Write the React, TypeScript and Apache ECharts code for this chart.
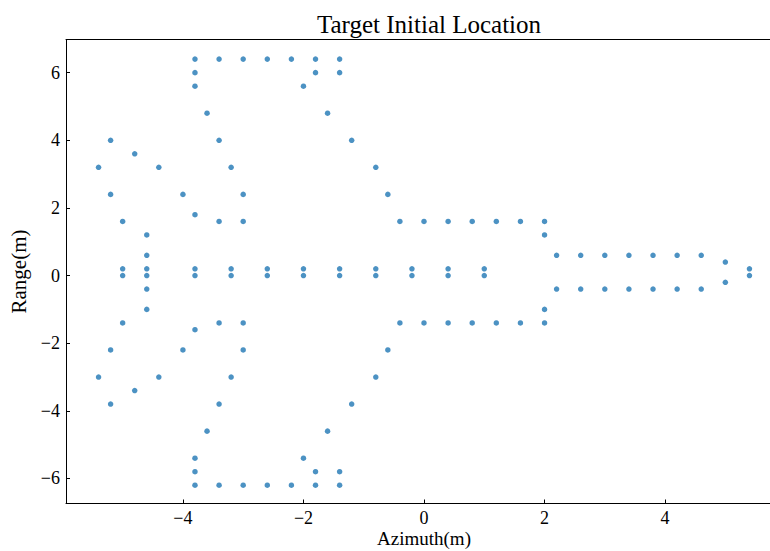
import React, { useEffect, useRef } from "react";
import * as echarts from "echarts";

// Each row: range value (m) and the azimuth values (m) of the points on that row
const rowRange: number[] = [
  6.4, 6.0, 5.6, 4.8, 4.0, 3.6, 3.2, 2.4, 1.8, 1.6, 1.2, 0.6, 0.4, 0.2, 0.0,
  -0.2, -0.4, -1.0, -1.4, -1.6, -2.2, -3.0, -3.4, -3.8, -4.6, -5.4, -5.8, -6.2,
];
const rowAzimuth: number[][] = [
  [-3.8, -3.4, -3.0, -2.6, -2.2, -1.8, -1.4],
  [-3.8, -1.8, -1.4],
  [-3.8, -2.0],
  [-3.6, -1.6],
  [-5.2, -3.4, -1.2],
  [-4.8],
  [-5.4, -4.4, -3.2, -0.8],
  [-5.2, -4.0, -3.0, -0.6],
  [-3.8],
  [-5.0, -3.4, -3.0, -0.4, 0.0, 0.4, 0.8, 1.2, 1.6, 2.0],
  [-4.6, 2.0],
  [-4.6, 2.2, 2.6, 3.0, 3.4, 3.8, 4.2, 4.6],
  [5.0],
  [-5.0, -4.6, -3.8, -3.2, -2.6, -2.0, -1.4, -0.8, -0.2, 0.4, 1.0, 5.4],
  [-5.0, -4.6, -3.8, -3.2, -2.6, -2.0, -1.4, -0.8, -0.2, 0.4, 1.0, 5.4],
  [5.0],
  [-4.6, 2.2, 2.6, 3.0, 3.4, 3.8, 4.2, 4.6],
  [-4.6, 2.0],
  [-5.0, -3.4, -3.0, -0.4, 0.0, 0.4, 0.8, 1.2, 1.6, 2.0],
  [-3.8],
  [-5.2, -4.0, -3.0, -0.6],
  [-5.4, -4.4, -3.2, -0.8],
  [-4.8],
  [-5.2, -3.4, -1.2],
  [-3.6, -1.6],
  [-3.8, -2.0],
  [-3.8, -1.8, -1.4],
  [-3.8, -3.4, -3.0, -2.6, -2.2, -1.8, -1.4],
];

const xTicks: number[] = [-4, -2, 0, 2, 4];
const yTicks: number[] = [-6, -4, -2, 0, 2, 4, 6];

const FONT = "'Liberation Serif', 'Times New Roman', serif";
const minus = (v: number | string) => String(v).replace("-", "\u2212");

export default function App() {
  const ref = useRef<HTMLDivElement>(null);

  useEffect(() => {
    if (!ref.current) return;
    const chart = echarts.init(ref.current, null, { renderer: "svg" });
    const points: [number, number][] = [];
    rowRange.forEach((r, i) => rowAzimuth[i].forEach((a) => points.push([a, r])));

    chart.setOption({
      animation: false,
      backgroundColor: "#ffffff",
      title: {
        text: "Target Initial Location",
        left: 424,
        top: 7,
        textAlign: "center",
        textStyle: { fontFamily: FONT, fontSize: 25, fontWeight: "normal", color: "#000" },
      },
      graphic: [
        {
          type: "text",
          x: 424,
          y: 529,
          style: {
            text: "Azimuth(m)",
            fontFamily: FONT,
            fontSize: 19,
            lineHeight: 19,
            fill: "#000",
            align: "center",
            verticalAlign: "top",
          },
        },
      ],
      grid: {
        left: 66,
        top: 39.5,
        width: 716,
        height: 464,
        containLabel: false,
        outerBoundsMode: "none",
      },
      xAxis: [
        {
          type: "value",
          min: -5.94,
          max: 5.94,
          axisLine: { show: true, onZero: false, lineStyle: { color: "#000", width: 1 } },
          axisTick: { show: true, inside: true, length: 4, customValues: xTicks, lineStyle: { color: "#000" } },
          axisLabel: {
            customValues: xTicks,
            margin: 5,
            fontFamily: FONT,
            fontSize: 18,
            lineHeight: 18,
            color: "#000",
            formatter: (v: number) => minus(v),
          },
          splitLine: { show: false },
        },
        {
          type: "value",
          position: "top",
          min: -5.94,
          max: 5.94,
          axisLine: { show: true, onZero: false, lineStyle: { color: "#000", width: 1 } },
          axisTick: { show: false },
          axisLabel: { show: false },
          splitLine: { show: false },
        },
      ],
      yAxis: {
        type: "value",
        min: -6.74,
        max: 6.98,
        name: "Range(m)",
        nameLocation: "middle",
        nameGap: 30,
        nameTextStyle: { fontFamily: FONT, fontSize: 21, color: "#000" },
        axisLine: { show: true, onZero: false, lineStyle: { color: "#000", width: 1 } },
        axisTick: { show: true, inside: true, length: 4, customValues: yTicks, lineStyle: { color: "#000" } },
        axisLabel: {
          customValues: yTicks,
          margin: 6,
          fontFamily: FONT,
          fontSize: 18,
          color: "#000",
          formatter: (v: number) => minus(v),
        },
        splitLine: { show: false },
      },
      series: [
        {
          type: "scatter",
          xAxisIndex: 0,
          data: points,
          symbol: "circle",
          symbolSize: 5.5,
          itemStyle: { color: "#1f77b4" },
        },
      ],
    });
    return () => chart.dispose();
  }, []);

  return <div ref={ref} style={{ width: 770, height: 551, position: "absolute", left: 0, top: 0 }} />;
}
